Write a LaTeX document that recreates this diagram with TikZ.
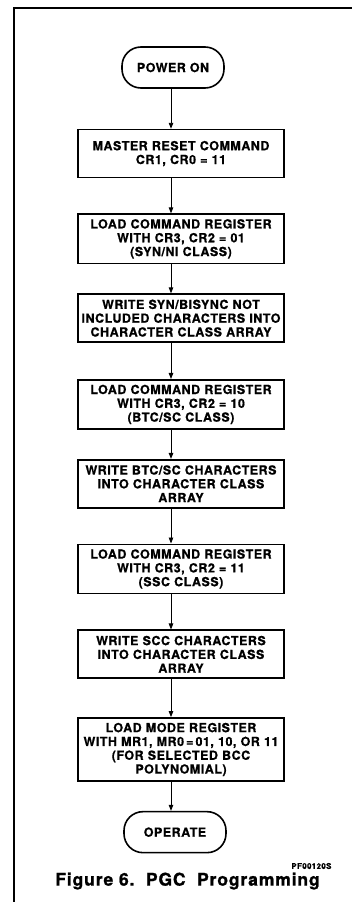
\documentclass[tikz,border=0pt]{standalone}
\usepackage{fontspec}
\setmainfont{TeX Gyre Heros}
\newfontfamily\boxfont[LetterSpace=4, BoldFeatures={FakeBold=0.8}]{TeX Gyre Heros}
\newfontfamily\capfont[LetterSpace=5, BoldFeatures={FakeBold=1.2}]{TeX Gyre Heros}
\usepackage{tikz}
\usetikzlibrary{arrows.meta, positioning}
\tikzset{every node/.style={font=\bfseries}}

\begin{document}
\begin{tikzpicture}[x=1pt, y=1pt,
    stepbox/.style={draw, line width=1.6pt, text width=200pt, inner xsep=3pt, align=center, minimum height=48pt, inner ysep=5pt, font=\boxfont\bfseries\fontsize{12.5}{13.8}\selectfont},
    term/.style={draw, line width=1.6pt, rounded corners=19pt, minimum width=102pt, minimum height=41pt, font=\boxfont\bfseries\fontsize{12.5}{13.8}\selectfont},
    flow/.style={-{Triangle[length=6pt, width=4.5pt]}, line width=0.9pt}]
    \useasboundingbox (0,0) rectangle (352,-902);
    \draw[line width=1.2pt] (14,-902) |- (352,-8);
    \node[term] (pwr) at (173,-67.5) {POWER ON};
    \node[stepbox, below=40pt of pwr, xshift=8pt] (mrst) {MASTER RESET COMMAND\\CR1, CR0 = 11};
    \node[stepbox, below=35pt of mrst] (lcr1) {LOAD COMMAND REGISTER\\WITH CR3, CR2 = 01\\(SYN/NI CLASS)};
    \node[stepbox, below=29pt of lcr1] (wsyn) {WRITE SYN/BISYNC NOT\\INCLUDED CHARACTERS INTO\\CHARACTER CLASS ARRAY};
    \node[stepbox, below=36pt of wsyn] (lcr2) {LOAD COMMAND REGISTER\\WITH CR3, CR2 = 10\\(BTC/SC CLASS)};
    \node[stepbox, below=29pt of lcr2] (wbtc) {WRITE BTC/SC CHARACTERS\\INTO CHARACTER CLASS\\ARRAY};
    \node[stepbox, below=35pt of wbtc] (lcr3) {LOAD COMMAND REGISTER\\WITH CR3, CR2 = 11\\(SSC CLASS)};
    \node[stepbox, below=35pt of lcr3] (wscc) {WRITE SCC CHARACTERS\\INTO CHARACTER CLASS\\ARRAY};
    \node[stepbox, below=38pt of wscc] (lmr) {LOAD MODE REGISTER\\WITH MR1, MR0\,=\,01, 10, OR 11\\(FOR SELECTED BCC\\POLYNOMIAL)};
    \node[term, below=29pt of lmr, xshift=-6pt] (oper) {OPERATE};
    \node[anchor=east, font=\boxfont\bfseries\fontsize{8}{9}\selectfont] (pfnum) at (335,-866) {PF00120S};
    \node[font=\capfont\bfseries\fontsize{17.5}{19}\selectfont] (cap) at (187.5,-881) {Figure 6.\ \ PGC\ \ Programming};
    \draw[flow] (pwr.south -| 171,0) -- (mrst.north -| 171,0);
    \draw[flow] (mrst.south -| 171,0) -- (lcr1.north -| 171,0);
    \draw[flow] (lcr1.south -| 171,0) -- (wsyn.north -| 171,0);
    \draw[flow] (wsyn.south -| 171,0) -- (lcr2.north -| 171,0);
    \draw[flow] (lcr2.south -| 171,0) -- (wbtc.north -| 171,0);
    \draw[flow] (wbtc.south -| 171,0) -- (lcr3.north -| 171,0);
    \draw[flow] (lcr3.south -| 171,0) -- (wscc.north -| 171,0);
    \draw[flow] (wscc.south -| 171,0) -- (lmr.north -| 171,0);
    \draw[flow] (lmr.south -| 171,0) -- (oper.north -| 171,0);
  \end{tikzpicture}
\end{document}
